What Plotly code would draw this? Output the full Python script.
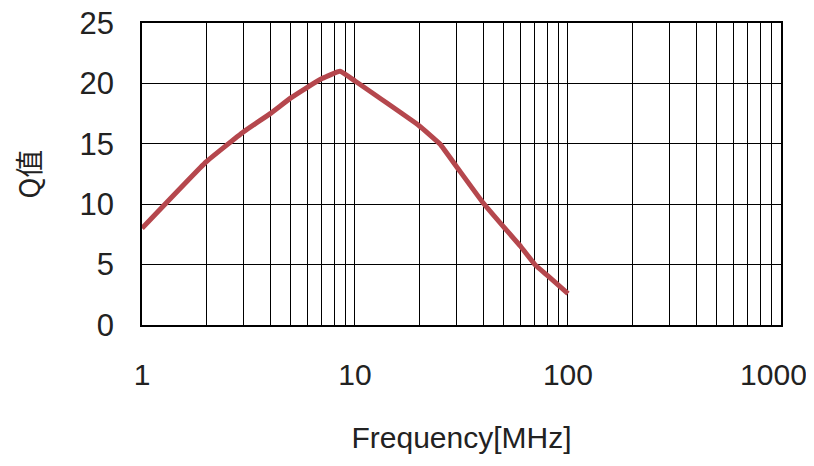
import plotly.graph_objects as go

freq_mhz = [1, 2, 3, 4, 5, 6, 7, 8.5, 10, 20, 25, 30, 40, 50, 60, 70, 80, 100]
q_value = [8.0, 13.5, 16.0, 17.5, 18.8, 19.7, 20.4, 21.0, 20.2, 16.5, 15.0, 13.1, 10.1, 8.1, 6.5, 5.0, 4.1, 2.6]

x_major = [1, 10, 100, 1000]
x_major_text = ["1", "10", "100", "1000\u2002"]
x_minor = [m * d for d in (1, 10, 100) for m in range(2, 10)]
y_ticks = [0, 5, 10, 15, 20, 25]

font_main = "Liberation Sans, Arial, sans-serif"

fig = go.Figure()
fig.add_trace(go.Scatter(
    x=freq_mhz, y=q_value, mode="lines",
    line=dict(color="#b5474d", width=5, shape="spline", smoothing=0.3),
    showlegend=False,
))

fig.update_layout(
    width=814, height=466,
    margin=dict(l=134, r=41, t=15, b=149),
    paper_bgcolor="white", plot_bgcolor="white",
    font=dict(family=font_main, color="#222222"),
)
fig.update_xaxes(
    type="log", range=[0, 3.0002],
    tickvals=x_major, ticktext=x_major_text,
    tickfont=dict(size=30, family=font_main),
    showgrid=True, gridcolor="black", gridwidth=1.3,
    minor=dict(tickvals=x_minor, showgrid=True, gridcolor="black", gridwidth=1.3, ticklen=0),
    ticks="", ticklabelstandoff=22, ticklabeloverflow="allow",
    showline=True, linecolor="black", linewidth=1.5, mirror=True,
    zeroline=False, automargin=False,
    title=dict(text="Frequency[MHz]", font=dict(size=30, family=font_main), standoff=37),
)
fig.update_yaxes(
    range=[0, 25],
    tickvals=y_ticks,
    tickfont=dict(size=31, family=font_main),
    showgrid=True, gridcolor="black", gridwidth=1.3,
    ticks="", ticklabelstandoff=20, ticklabeloverflow="allow",
    showline=True, linecolor="black", linewidth=1.5, mirror=True,
    zeroline=False, automargin=False,
    title=dict(text="Q值", font=dict(size=28, family="Noto Sans CJK SC, " + font_main), standoff=36),
)

fig.write_html("out.html")
